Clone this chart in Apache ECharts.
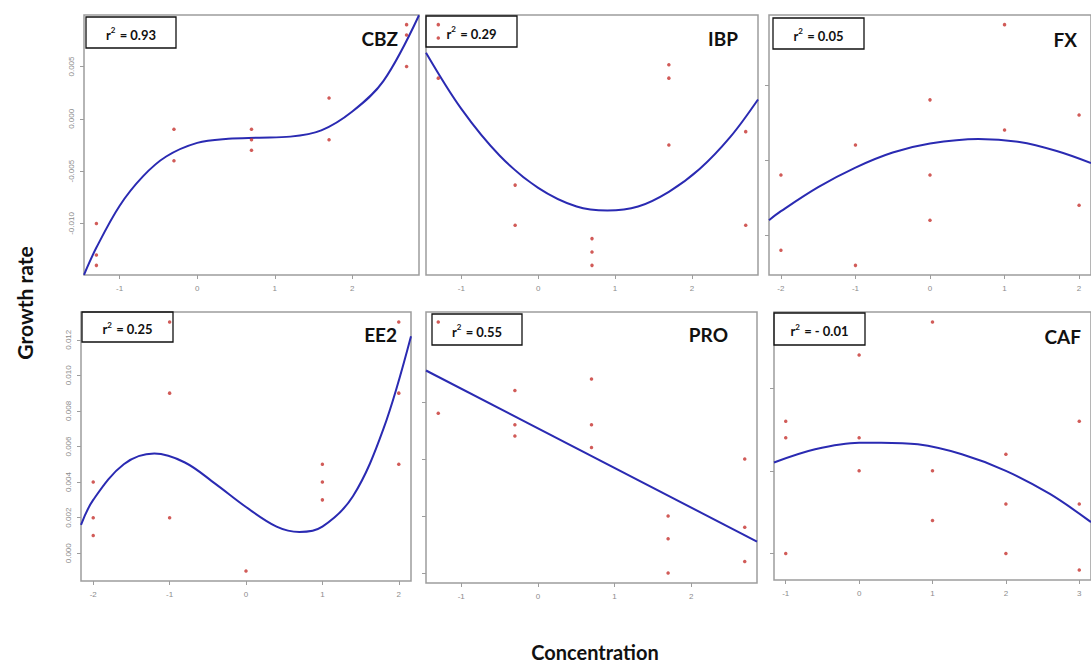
<!DOCTYPE html>
<html>
<head>
<meta charset="utf-8">
<title>Growth rate vs concentration</title>
<script src="https://cdn.jsdelivr.net/npm/echarts@6/dist/echarts.min.js"></script>
<style>
  html, body { margin: 0; padding: 0; background: #ffffff; }
  #chart { width: 1091px; height: 664px; }
</style>
</head>
<body>
<div id="chart"></div>
<script>
// ---- Observations (log concentration, growth rate) ----
const cbzConc = [-1.3, -1.3, -1.3, -0.3, -0.3, 0.7, 0.7, 0.7, 1.7, 1.7, 2.7, 2.7, 2.7];
const cbzRate = [-0.010, -0.013, -0.014, -0.001, -0.004, -0.001, -0.002, -0.003, 0.002, -0.002, 0.009, 0.008, 0.005];

const ibpConc = [-1.3, -1.3, -1.3, -0.3, -0.3, 0.7, 0.7, 0.7, 1.7, 1.7, 1.7, 2.7, 2.7];
const ibpRate = [0.007, 0.006, 0.003, -0.005, -0.008, -0.009, -0.010, -0.011, 0.004, 0.003, -0.002, -0.001, -0.008];

const fxConc = [-2, -2, -1, -1, 0, 0, 0, 1, 1, 2, 2];
const fxRate = [0.004, -0.001, 0.006, -0.002, 0.009, 0.004, 0.001, 0.014, 0.007, 0.008, 0.002];

const ee2Conc = [-2, -2, -2, -1, -1, -1, 0, 1, 1, 1, 2, 2, 2];
const ee2Rate = [0.004, 0.002, 0.001, 0.013, 0.009, 0.002, -0.001, 0.005, 0.004, 0.003, 0.013, 0.009, 0.005];

const proConc = [-1.3, -1.3, -0.3, -0.3, -0.3, 0.7, 0.7, 0.7, 1.7, 1.7, 1.7, 2.7, 2.7, 2.7];
const proRate = [0.0088, 0.0056, 0.0064, 0.0052, 0.0048, 0.0068, 0.0052, 0.0044, 0.0020, 0.0012, 0.0000, 0.0040, 0.0016, 0.0004];

const cafConc = [-1, -1, -1, 0, 0, 0, 1, 1, 1, 2, 2, 2, 3, 3, 3];
const cafRate = [0.008, 0.007, 0.000, 0.012, 0.007, 0.005, 0.014, 0.005, 0.002, 0.006, 0.003, 0.000, 0.008, 0.003, -0.001];

// ---- Fitted regression curves ----
const cbzFitConc = [-1.46, -1.3, -1.0, -0.7, -0.4, 0, 0.4, 0.8, 1.2, 1.6, 2.0, 2.4, 2.86];
const cbzFitRate = [-0.0149, -0.0123, -0.0083, -0.0055, -0.0036, -0.0023, -0.0019, -0.0018, -0.0017, -0.0011, 0.0007, 0.0036, 0.0099];

const ibpFitConc = [-1.46, -1.0, -0.5, 0, 0.5, 0.9, 1.3, 1.7, 2.1, 2.5, 2.86];
const ibpFitRate = [0.0049, 0.0007, -0.0028, -0.0052, -0.0066, -0.0069, -0.0066, -0.0055, -0.0038, -0.0014, 0.0014];

const fxFitConc = [-2.16, -2, -1.5, -1, -0.5, 0, 0.65, 1.2, 1.7, 2.16];
const fxFitRate = [0.0010, 0.0016, 0.0032, 0.0045, 0.0055, 0.0061, 0.0064, 0.0062, 0.0056, 0.0048];

const ee2FitConc = [-2.16, -2, -1.6, -1.2, -0.8, -0.4, 0, 0.4, 0.7, 1.0, 1.4, 1.8, 2.16];
const ee2FitRate = [0.0016, 0.0030, 0.0050, 0.0056, 0.0051, 0.0039, 0.0026, 0.0015, 0.0012, 0.0015, 0.0032, 0.0070, 0.0122];

const proFitConc = [-1.46, 2.86];
const proFitRate = [0.0071, 0.0011];

const cafFitConc = [-1.16, -0.6, 0, 0.3, 0.8, 1.4, 2.0, 2.6, 3.16];
const cafFitRate = [0.0055, 0.0063, 0.0067, 0.0067, 0.0066, 0.0060, 0.0050, 0.0036, 0.0019];

// ---- Labels ----
const panelNames = ['CBZ', 'IBP', 'FX', 'EE2', 'PRO', 'CAF'];
const rSquaredText = ['0.93', '0.29', '0.05', '0.25', '0.55', '- 0.01'];
const xTicksA = [-1, 0, 1, 2];
const xTicksB = [-2, -1, 0, 1, 2];
const xTicksC = [-1, 0, 1, 2, 3];
const cbzYTicks = [-0.010, -0.005, 0.000, 0.005];
const ee2YTicks = [0.000, 0.002, 0.004, 0.006, 0.008, 0.010, 0.012];
const fxYTicks = [0.000, 0.005, 0.010];
const proYTicks = [0.000, 0.002, 0.004, 0.006];
const cafYTicks = [0.000, 0.005, 0.010];

// Base-R style axis range: data extent widened by 4% on each side
function paddedRange(values) {
  const lo = Math.min(...values), hi = Math.max(...values);
  const pad = (hi - lo) * 0.04;
  return [lo - pad, hi + pad];
}

const panels = [
  { conc: cbzConc, rate: cbzRate, fx: cbzFitConc, fy: cbzFitRate, xt: xTicksA, yt: cbzYTicks, yLabels: true,
    grid: { left: 84, top: 15, width: 335, height: 260 } },
  { conc: ibpConc, rate: ibpRate, fx: ibpFitConc, fy: ibpFitRate, xt: xTicksA, yt: [], yLabels: false,
    grid: { left: 426, top: 15, width: 332, height: 260 } },
  { conc: fxConc, rate: fxRate, fx: fxFitConc, fy: fxFitRate, xt: xTicksB, yt: fxYTicks, yLabels: false,
    grid: { left: 769, top: 15, width: 333, height: 260 } },
  { conc: ee2Conc, rate: ee2Rate, fx: ee2FitConc, fy: ee2FitRate, xt: xTicksB, yt: ee2YTicks, yLabels: true,
    grid: { left: 81, top: 312, width: 330, height: 269 } },
  { conc: proConc, rate: proRate, fx: proFitConc, fy: proFitRate, xt: xTicksA, yt: proYTicks, yLabels: false,
    grid: { left: 426, top: 312, width: 331, height: 271 } },
  { conc: cafConc, rate: cafRate, fx: cafFitConc, fy: cafFitRate, xt: xTicksC, yt: cafYTicks, yLabels: false,
    grid: { left: 774, top: 312, width: 327, height: 268 } }
];

// r-squared boxes and panel names
const boxes = [
  { x: 86, y: 17, w: 90, h: 31 },
  { x: 426, y: 16, w: 91, h: 31 },
  { x: 773, y: 18, w: 91, h: 31 },
  { x: 82, y: 312, w: 91, h: 30 },
  { x: 432, y: 314, w: 90, h: 31 },
  { x: 774, y: 313, w: 91, h: 32 }
];
const namePos = [
  { x: 398, y: 38 }, { x: 738, y: 38 }, { x: 1077, y: 39 },
  { x: 397, y: 334 }, { x: 728, y: 334 }, { x: 1081, y: 336 }
];

const FONT = 'Lato, "Open Sans", sans-serif';
const TICK_GREY = '#8c8c8c';
const FRAME_GREY = '#9d9d9d';

const grids = [], xAxes = [], yAxes = [], series = [], graphics = [];

panels.forEach((p, i) => {
  grids.push(Object.assign({ show: true, borderColor: FRAME_GREY, borderWidth: 1.5,
    backgroundColor: 'transparent', containLabel: false }, p.grid));

  const xr = paddedRange(p.conc);
  const yr = paddedRange(p.rate);

  xAxes.push({
    type: 'value', gridIndex: i, min: xr[0], max: xr[1], position: 'bottom',
    axisLine: { show: false, onZero: false },
    splitLine: { show: false },
    axisTick: { show: true, inside: false, length: 4, customValues: p.xt,
      lineStyle: { color: FRAME_GREY, width: 1 } },
    axisLabel: { show: true, customValues: p.xt, margin: 9, fontSize: 8,
      color: TICK_GREY, fontFamily: 'Liberation Sans, Arial, sans-serif',
      formatter: v => String(Math.round(v)) }
  });

  yAxes.push({
    type: 'value', gridIndex: i, min: yr[0], max: yr[1], position: 'left',
    axisLine: { show: false, onZero: false },
    splitLine: { show: false },
    axisTick: { show: p.yt.length > 0, inside: false, length: 4, customValues: p.yt,
      lineStyle: { color: FRAME_GREY, width: 1 } },
    axisLabel: { show: p.yLabels, customValues: p.yt, rotate: 90, margin: 9, fontSize: 8,
      color: TICK_GREY, fontFamily: 'Liberation Sans, Arial, sans-serif',
      formatter: v => v.toFixed(3) }
  });

  series.push({
    type: 'scatter', xAxisIndex: i, yAxisIndex: i,
    data: p.conc.map((c, k) => [c, p.rate[k]]),
    symbol: 'circle', symbolSize: 3.5,
    itemStyle: { color: '#c6322e' },
    z: 3, silent: true
  });

  series.push({
    type: 'line', xAxisIndex: i, yAxisIndex: i,
    data: p.fx.map((c, k) => [c, p.fy[k]]),
    smooth: p.fx.length > 2 ? 0.35 : false,
    showSymbol: false, clip: true,
    lineStyle: { color: '#2a2ab2', width: 2 },
    z: 2, silent: true
  });

  const b = boxes[i];
  graphics.push({
    type: 'rect', shape: { x: b.x, y: b.y, width: b.w, height: b.h },
    style: { fill: 'none', stroke: '#111111', lineWidth: 1.3 }, z: 1
  });
  graphics.push({
    type: 'text', x: b.x + b.w / 2, y: b.y + b.h / 2 + 1, z: 5,
    style: {
      text: '{b|r}{s|2}{b| = ' + rSquaredText[i] + '}',
      align: 'center', verticalAlign: 'middle',
      rich: {
        b: { fontSize: 13, fontWeight: 'bold', fontFamily: FONT, fill: '#111111', lineHeight: 15, verticalAlign: 'bottom' },
        s: { fontSize: 8, fontWeight: 'bold', fontFamily: FONT, fill: '#111111', lineHeight: 15, verticalAlign: 'top', padding: [0, 1, 0, 0] }
      }
    }
  });

  const n = namePos[i];
  graphics.push({
    type: 'text', x: n.x, y: n.y, z: 5,
    style: { text: panelNames[i], align: 'right', verticalAlign: 'middle',
      fontSize: 19, fontWeight: 'bold', fontFamily: FONT, fill: '#111111' }
  });
});

graphics.push({
  type: 'text', x: 24, y: 303, rotation: Math.PI / 2, z: 5,
  style: { text: 'Growth rate', align: 'center', verticalAlign: 'middle',
    fontSize: 21, fontWeight: 'bold', fontFamily: FONT, fill: '#111111' }
});
graphics.push({
  type: 'text', x: 595, y: 652, z: 5,
  style: { text: 'Concentration', align: 'center', verticalAlign: 'middle',
    fontSize: 20, fontWeight: 'bold', fontFamily: FONT, fill: '#111111' }
});

const chart = echarts.init(document.getElementById('chart'), null, { renderer: 'svg' });
chart.setOption({
  backgroundColor: '#ffffff',
  animation: false,
  grid: grids,
  xAxis: xAxes,
  yAxis: yAxes,
  series: series,
  graphic: graphics
});
</script>
</body>
</html>
